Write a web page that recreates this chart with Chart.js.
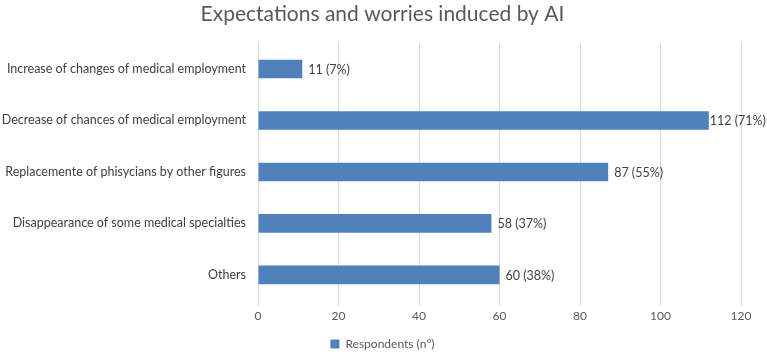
<!DOCTYPE html>
<html>
<head>
<meta charset="utf-8">
<script src="https://cdn.jsdelivr.net/npm/chart.js@4"></script>
<style>
  html, body { margin: 0; padding: 0; background: #fff; }
  #wrap { width: 767px; height: 352px; }
</style>
</head>
<body>
<div id="wrap"><canvas id="chart"></canvas></div>
<script>
const categories = [
    "Increase of changes of medical employment",
    "Decrease of chances of medical employment",
    "Replacemente of phisycians by other figures",
    "Disappearance of some medical specialties",
    "Others"
];
const respondents = [11, 112, 87, 58, 60];
const percents = ["7%", "71%", "55%", "37%", "38%"];
const xTicks = [0, 20, 40, 60, 80, 100, 120];

const fontFamily = "Lato, 'Open Sans', sans-serif";

// etiquettes de valeur à droite des barres
const valueLabels = {
    id: 'valueLabels',
    afterDatasetsDraw(chart) {
        const ctx = chart.ctx;
        const meta = chart.getDatasetMeta(0);
        ctx.save();
        ctx.font = "12.5px " + fontFamily;
        ctx.fillStyle = '#404040';
        ctx.textBaseline = 'middle';
        meta.data.forEach((bar, i) => {
            const gap = respondents[i] > 100 ? 1 : 6;
            ctx.fillText(respondents[i] + ' (' + percents[i] + ')', bar.x + gap, bar.y + 1);
        });
        ctx.restore();
    }
};

new Chart(document.getElementById('chart'), {
    type: 'bar',
    data: {
        labels: categories,
        datasets: [{
            label: 'Respondents (n°)',
            data: respondents,
            backgroundColor: '#4f81bd',
            barPercentage: 0.72,
            categoryPercentage: 0.5
        }]
    },
    options: {
        indexAxis: 'y',
        responsive: true,
        maintainAspectRatio: false,
        animation: false,
        layout: { padding: { left: 24, right: 26, top: 0, bottom: -8 } },
        plugins: {
            title: {
                display: true,
                text: 'Expectations and worries induced by AI',
                color: '#595959',
                font: { family: fontFamily, size: 21, weight: 'normal', lineHeight: 1.2 },
                padding: { top: 2, bottom: 16 }
            },
            legend: {
                position: 'bottom',
                labels: {
                    color: '#595959',
                    font: { family: fontFamily, size: 12 },
                    boxWidth: 9,
                    boxHeight: 9,
                    padding: 2
                }
            },
            tooltip: { enabled: false }
        },
        scales: {
            x: {
                min: 0,
                max: 120,
                afterBuildTicks(axis) {
                    axis.ticks = xTicks.map(v => ({ value: v }));
                },
                afterFit(axis) { axis.height += 11; },
                grid: { color: '#d9d9d9', tickLength: 6, drawTicks: true },
                border: { display: false },
                ticks: {
                    color: '#595959',
                    font: { family: fontFamily, size: 12 },
                    padding: 2
                }
            },
            y: {
                grid: { display: false },
                border: { color: '#d9d9d9' },
                afterFit(axis) {
                    axis.width = 234;
                    // les libellés débordent dans la marge gauche : pas de découpe
                    axis._computeLabelArea = () => undefined;
                },
                ticks: {
                    color: '#404040',
                    font: { family: fontFamily, size: 12.5 },
                    padding: 4
                }
            }
        }
    },
    plugins: [valueLabels]
});
</script>
</body>
</html>
